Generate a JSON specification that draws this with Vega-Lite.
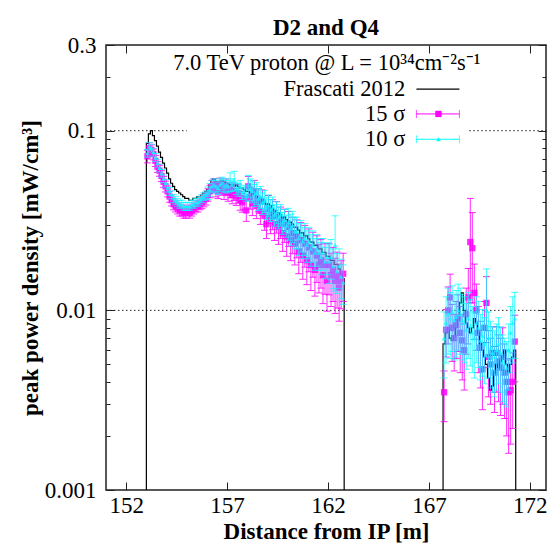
{
"$schema":"https://vega.github.io/schema/vega-lite/v6.json",
"width":440,"height":445,
"autosize":{"type":"none"},
"padding":{"left":106,"top":45,"right":4,"bottom":53},
"background":"white",
"config":{"view":{"stroke":"#222","strokeWidth":1.5},"font":"Liberation Serif"},
"title":{"text":"D2 and Q4","font":"Liberation Serif","fontSize":23,"fontWeight":"bold","color":"black","offset":-6,"anchor":"middle"},
"datasets":{
"grid":[{"x":151,"x2":155,"y":0.1},{"x":169,"x2":172.8,"y":0.1},{"x":151,"x2":172.8,"y":0.01}],
"blk":[
{"x":152.999,"y":0.001,"g":1},{"x":153.0,"y":0.085,"g":1},{"x":153.1,"y":0.096,"g":1},{"x":153.2,"y":0.1,"g":1},{"x":153.3,"y":0.094,"g":1},{"x":153.4,"y":0.088,"g":1},{"x":153.5,"y":0.082,"g":1},{"x":153.6,"y":0.076,"g":1},{"x":153.7,"y":0.071,"g":1},{"x":153.8,"y":0.066,"g":1},{"x":153.9,"y":0.062,"g":1},{"x":154.0,"y":0.058,"g":1},{"x":154.1,"y":0.054,"g":1},{"x":154.2,"y":0.051,"g":1},{"x":154.3,"y":0.049,"g":1},{"x":154.4,"y":0.047,"g":1},{"x":154.5,"y":0.046,"g":1},{"x":154.6,"y":0.045,"g":1},{"x":154.7,"y":0.044,"g":1},{"x":154.8,"y":0.043,"g":1},{"x":154.9,"y":0.042,"g":1},{"x":155.0,"y":0.042,"g":1},{"x":155.1,"y":0.041,"g":1},{"x":155.2,"y":0.041,"g":1},{"x":155.3,"y":0.042,"g":1},{"x":155.4,"y":0.042,"g":1},{"x":155.5,"y":0.043,"g":1},{"x":155.6,"y":0.043,"g":1},{"x":155.7,"y":0.044,"g":1},{"x":155.8,"y":0.045,"g":1},{"x":155.9,"y":0.046,"g":1},{"x":156.0,"y":0.047,"g":1},{"x":156.1,"y":0.05,"g":1},{"x":156.2,"y":0.053,"g":1},{"x":156.3,"y":0.054,"g":1},{"x":156.4,"y":0.052,"g":1},{"x":156.5,"y":0.051,"g":1},{"x":156.6,"y":0.052,"g":1},{"x":156.7,"y":0.053,"g":1},{"x":156.8,"y":0.052,"g":1},{"x":156.9,"y":0.051,"g":1},{"x":157.0,"y":0.051,"g":1},{"x":157.1,"y":0.05,"g":1},{"x":157.2,"y":0.05,"g":1},{"x":157.3,"y":0.049,"g":1},{"x":157.4,"y":0.05,"g":1},{"x":157.5,"y":0.049,"g":1},{"x":157.6,"y":0.048,"g":1},{"x":157.7,"y":0.048,"g":1},{"x":157.8,"y":0.047,"g":1},{"x":157.9,"y":0.046,"g":1},{"x":158.0,"y":0.046,"g":1},{"x":158.1,"y":0.045,"g":1},{"x":158.2,"y":0.044,"g":1},{"x":158.3,"y":0.044,"g":1},{"x":158.4,"y":0.043,"g":1},{"x":158.5,"y":0.042,"g":1},{"x":158.6,"y":0.042,"g":1},{"x":158.7,"y":0.041,"g":1},{"x":158.8,"y":0.04,"g":1},{"x":158.9,"y":0.039,"g":1},{"x":159.0,"y":0.039,"g":1},{"x":159.1,"y":0.038,"g":1},{"x":159.2,"y":0.037,"g":1},{"x":159.3,"y":0.036,"g":1},{"x":159.4,"y":0.035,"g":1},{"x":159.5,"y":0.035,"g":1},{"x":159.6,"y":0.034,"g":1},{"x":159.7,"y":0.033,"g":1},{"x":159.8,"y":0.033,"g":1},{"x":159.9,"y":0.032,"g":1},{"x":160.0,"y":0.031,"g":1},{"x":160.1,"y":0.031,"g":1},{"x":160.2,"y":0.03,"g":1},{"x":160.3,"y":0.029,"g":1},{"x":160.4,"y":0.029,"g":1},{"x":160.5,"y":0.028,"g":1},{"x":160.6,"y":0.027,"g":1},{"x":160.7,"y":0.027,"g":1},{"x":160.8,"y":0.026,"g":1},{"x":160.9,"y":0.026,"g":1},{"x":161.0,"y":0.025,"g":1},{"x":161.1,"y":0.024,"g":1},{"x":161.2,"y":0.024,"g":1},{"x":161.3,"y":0.023,"g":1},{"x":161.4,"y":0.023,"g":1},{"x":161.5,"y":0.022,"g":1},{"x":161.6,"y":0.022,"g":1},{"x":161.7,"y":0.021,"g":1},{"x":161.8,"y":0.021,"g":1},{"x":161.9,"y":0.02,"g":1},{"x":162.0,"y":0.02,"g":1},{"x":162.1,"y":0.019,"g":1},{"x":162.2,"y":0.019,"g":1},{"x":162.3,"y":0.018,"g":1},{"x":162.4,"y":0.018,"g":1},{"x":162.5,"y":0.017,"g":1},{"x":162.6,"y":0.016,"g":1},{"x":162.7,"y":0.015,"g":1},{"x":162.8,"y":0.001,"g":1},
{"x":167.699,"y":0.001,"g":2},{"x":167.7,"y":0.0065,"g":2},{"x":167.8,"y":0.0075,"g":2},{"x":167.9,"y":0.008,"g":2},{"x":168.0,"y":0.007,"g":2},{"x":168.1,"y":0.0068,"g":2},{"x":168.2,"y":0.0072,"g":2},{"x":168.3,"y":0.008,"g":2},{"x":168.4,"y":0.009,"g":2},{"x":168.5,"y":0.011,"g":2},{"x":168.6,"y":0.0125,"g":2},{"x":168.7,"y":0.01,"g":2},{"x":168.8,"y":0.0085,"g":2},{"x":168.9,"y":0.008,"g":2},{"x":169.0,"y":0.0075,"g":2},{"x":169.1,"y":0.008,"g":2},{"x":169.2,"y":0.009,"g":2},{"x":169.3,"y":0.0085,"g":2},{"x":169.4,"y":0.0075,"g":2},{"x":169.5,"y":0.0065,"g":2},{"x":169.6,"y":0.006,"g":2},{"x":169.7,"y":0.0055,"g":2},{"x":169.8,"y":0.005,"g":2},{"x":169.9,"y":0.0042,"g":2},{"x":170.0,"y":0.0036,"g":2},{"x":170.1,"y":0.0038,"g":2},{"x":170.2,"y":0.0045,"g":2},{"x":170.3,"y":0.005,"g":2},{"x":170.4,"y":0.0048,"g":2},{"x":170.5,"y":0.0052,"g":2},{"x":170.6,"y":0.0055,"g":2},{"x":170.7,"y":0.006,"g":2},{"x":170.8,"y":0.005,"g":2},{"x":170.9,"y":0.0045,"g":2},{"x":171.0,"y":0.005,"g":2},{"x":171.1,"y":0.0055,"g":2},{"x":171.2,"y":0.006,"g":2},{"x":171.3,"y":0.001,"g":2}
],
"m15":[
{"x":153.05,"y":0.072,"lo":0.0662,"hi":0.0778},{"x":153.15,"y":0.08,"lo":0.0744,"hi":0.0856},{"x":153.25,"y":0.078,"lo":0.0725,"hi":0.0835},{"x":153.35,"y":0.074,"lo":0.0688,"hi":0.0792},{"x":153.45,"y":0.068,"lo":0.0632,"hi":0.0728},{"x":153.55,"y":0.063,"lo":0.0586,"hi":0.0674},{"x":153.65,"y":0.06,"lo":0.0558,"hi":0.0642},{"x":153.75,"y":0.056,"lo":0.0521,"hi":0.0599},{"x":153.85,"y":0.052,"lo":0.0484,"hi":0.0556},{"x":153.95,"y":0.049,"lo":0.0456,"hi":0.0524},
{"x":154.05,"y":0.046,"lo":0.0428,"hi":0.0492},{"x":154.15,"y":0.043,"lo":0.04,"hi":0.046},{"x":154.25,"y":0.041,"lo":0.0381,"hi":0.0439},{"x":154.35,"y":0.039,"lo":0.0363,"hi":0.0417},{"x":154.45,"y":0.038,"lo":0.0353,"hi":0.0407},{"x":154.55,"y":0.037,"lo":0.0344,"hi":0.0396},{"x":154.65,"y":0.036,"lo":0.0335,"hi":0.0385},{"x":154.75,"y":0.036,"lo":0.0335,"hi":0.0385},{"x":154.85,"y":0.035,"lo":0.0326,"hi":0.0375},{"x":154.95,"y":0.035,"lo":0.0326,"hi":0.0375},
{"x":155.05,"y":0.036,"lo":0.0335,"hi":0.0385},{"x":155.15,"y":0.035,"lo":0.0326,"hi":0.0375},{"x":155.25,"y":0.036,"lo":0.0335,"hi":0.0385},{"x":155.35,"y":0.037,"lo":0.0344,"hi":0.0396},{"x":155.45,"y":0.038,"lo":0.0353,"hi":0.0407},{"x":155.55,"y":0.038,"lo":0.0353,"hi":0.0407},{"x":155.65,"y":0.039,"lo":0.0363,"hi":0.0417},{"x":155.75,"y":0.04,"lo":0.0368,"hi":0.0432},{"x":155.85,"y":0.041,"lo":0.0377,"hi":0.0443},{"x":155.95,"y":0.042,"lo":0.0386,"hi":0.0454},
{"x":156.05,"y":0.044,"lo":0.0405,"hi":0.0475},{"x":156.15,"y":0.046,"lo":0.0423,"hi":0.0497},{"x":156.25,"y":0.049,"lo":0.0451,"hi":0.0529},{"x":156.35,"y":0.05,"lo":0.046,"hi":0.054},{"x":156.45,"y":0.047,"lo":0.0428,"hi":0.0512},{"x":156.55,"y":0.046,"lo":0.0419,"hi":0.0501},{"x":156.65,"y":0.05,"lo":0.0455,"hi":0.0545},{"x":156.75,"y":0.048,"lo":0.0437,"hi":0.0523},{"x":156.85,"y":0.046,"lo":0.0414,"hi":0.0506},{"x":156.95,"y":0.049,"lo":0.0441,"hi":0.0539},
{"x":157.05,"y":0.045,"lo":0.0405,"hi":0.0495},{"x":157.15,"y":0.047,"lo":0.0423,"hi":0.0517},{"x":157.25,"y":0.044,"lo":0.0392,"hi":0.0488},{"x":157.35,"y":0.046,"lo":0.0409,"hi":0.0511},{"x":157.45,"y":0.043,"lo":0.0383,"hi":0.0477},{"x":157.55,"y":0.045,"lo":0.0396,"hi":0.0504},{"x":157.65,"y":0.041,"lo":0.0361,"hi":0.0459},{"x":157.75,"y":0.04,"lo":0.0352,"hi":0.0448},{"x":157.85,"y":0.042,"lo":0.0365,"hi":0.0475},{"x":157.95,"y":0.036,"lo":0.0313,"hi":0.0407},
{"x":158.05,"y":0.049,"lo":0.0429,"hi":0.0557},{"x":158.15,"y":0.0426,"lo":0.0366,"hi":0.0485},{"x":158.25,"y":0.0392,"lo":0.0337,"hi":0.0447},{"x":158.35,"y":0.0459,"lo":0.0391,"hi":0.0529},{"x":158.45,"y":0.0381,"lo":0.0324,"hi":0.0438},{"x":158.55,"y":0.0414,"lo":0.0353,"hi":0.0477},{"x":158.65,"y":0.0358,"lo":0.0301,"hi":0.0416},{"x":158.75,"y":0.0403,"lo":0.0338,"hi":0.0468},{"x":158.85,"y":0.0336,"lo":0.0279,"hi":0.0393},{"x":158.95,"y":0.0302,"lo":0.0251,"hi":0.0354},
{"x":159.05,"y":0.037,"lo":0.0304,"hi":0.0436},{"x":159.15,"y":0.0325,"lo":0.0267,"hi":0.0383},{"x":159.25,"y":0.0347,"lo":0.0281,"hi":0.0413},{"x":159.35,"y":0.0302,"lo":0.0245,"hi":0.036},{"x":159.45,"y":0.0336,"lo":0.0269,"hi":0.0403},{"x":159.55,"y":0.0291,"lo":0.0233,"hi":0.0349},{"x":159.65,"y":0.0314,"lo":0.0251,"hi":0.0376},{"x":159.75,"y":0.0269,"lo":0.0213,"hi":0.0325},{"x":159.85,"y":0.0302,"lo":0.0239,"hi":0.0366},{"x":159.95,"y":0.0258,"lo":0.02,"hi":0.0315},
{"x":160.05,"y":0.0291,"lo":0.0227,"hi":0.0355},{"x":160.15,"y":0.0246,"lo":0.0189,"hi":0.0304},{"x":160.25,"y":0.0269,"lo":0.0207,"hi":0.033},{"x":160.35,"y":0.0235,"lo":0.0179,"hi":0.0291},{"x":160.45,"y":0.0258,"lo":0.0196,"hi":0.0319},{"x":160.55,"y":0.0213,"lo":0.016,"hi":0.0267},{"x":160.65,"y":0.0246,"lo":0.0185,"hi":0.0308},{"x":160.75,"y":0.0202,"lo":0.0149,"hi":0.0254},{"x":160.85,"y":0.0235,"lo":0.0174,"hi":0.0297},{"x":160.95,"y":0.019,"lo":0.0139,"hi":0.0242},
{"x":161.05,"y":0.0224,"lo":0.0164,"hi":0.0284},{"x":161.15,"y":0.0179,"lo":0.0129,"hi":0.023},{"x":161.25,"y":0.0213,"lo":0.0153,"hi":0.0272},{"x":161.35,"y":0.0168,"lo":0.012,"hi":0.0217},{"x":161.45,"y":0.0202,"lo":0.0143,"hi":0.026},{"x":161.55,"y":0.0179,"lo":0.0125,"hi":0.0233},{"x":161.65,"y":0.019,"lo":0.0133,"hi":0.0248},{"x":161.75,"y":0.0157,"lo":0.0109,"hi":0.0205},{"x":161.85,"y":0.0179,"lo":0.0123,"hi":0.0235},{"x":161.95,"y":0.0146,"lo":0.0099,"hi":0.0193},
{"x":162.05,"y":0.0179,"lo":0.0122,"hi":0.0236},{"x":162.15,"y":0.0157,"lo":0.0105,"hi":0.0208},{"x":162.25,"y":0.0168,"lo":0.0112,"hi":0.0224},{"x":162.35,"y":0.0146,"lo":0.0096,"hi":0.0195},{"x":162.45,"y":0.0157,"lo":0.0103,"hi":0.0211},{"x":162.55,"y":0.0134,"lo":0.0087,"hi":0.0181},{"x":162.65,"y":0.0146,"lo":0.0102,"hi":0.0189},{"x":162.75,"y":0.016,"lo":0.0112,"hi":0.0208},
{"x":167.75,"y":0.0035,"lo":0.0024,"hi":0.0046},{"x":167.85,"y":0.0078,"lo":0.0055,"hi":0.0101},{"x":167.95,"y":0.01,"lo":0.0065,"hi":0.0135},{"x":168.05,"y":0.0118,"lo":0.0077,"hi":0.0159},{"x":168.15,"y":0.008,"lo":0.0052,"hi":0.0108},{"x":168.25,"y":0.007,"lo":0.0046,"hi":0.0095},{"x":168.35,"y":0.0083,"lo":0.0054,"hi":0.0112},{"x":168.45,"y":0.009,"lo":0.0059,"hi":0.0122},{"x":168.55,"y":0.0075,"lo":0.0045,"hi":0.0105},{"x":168.65,"y":0.0068,"lo":0.0041,"hi":0.0095},
{"x":168.75,"y":0.006,"lo":0.0036,"hi":0.0084},{"x":168.85,"y":0.0095,"lo":0.0057,"hi":0.0133},{"x":168.95,"y":0.0118,"lo":0.0065,"hi":0.0171},{"x":169.05,"y":0.024,"lo":0.011,"hi":0.042},{"x":169.15,"y":0.0222,"lo":0.011,"hi":0.035},{"x":169.25,"y":0.0125,"lo":0.0069,"hi":0.0181},{"x":169.35,"y":0.01,"lo":0.006,"hi":0.014},{"x":169.45,"y":0.0075,"lo":0.0045,"hi":0.0105},{"x":169.55,"y":0.0062,"lo":0.0037,"hi":0.0087},{"x":169.65,"y":0.0047,"lo":0.0028,"hi":0.0066},
{"x":169.75,"y":0.008,"lo":0.0048,"hi":0.0112},{"x":169.85,"y":0.011,"lo":0.0066,"hi":0.0154},{"x":169.95,"y":0.0055,"lo":0.0033,"hi":0.0077},{"x":170.05,"y":0.005,"lo":0.003,"hi":0.007},{"x":170.15,"y":0.0058,"lo":0.0035,"hi":0.0081},{"x":170.25,"y":0.0045,"lo":0.0027,"hi":0.0063},{"x":170.35,"y":0.0058,"lo":0.0035,"hi":0.0081},{"x":170.45,"y":0.0052,"lo":0.0031,"hi":0.0073},{"x":170.55,"y":0.0048,"lo":0.0026,"hi":0.007},{"x":170.65,"y":0.0055,"lo":0.003,"hi":0.008},
{"x":170.75,"y":0.0045,"lo":0.0025,"hi":0.0065},{"x":170.85,"y":0.004,"lo":0.002,"hi":0.006},{"x":170.95,"y":0.0035,"lo":0.0016,"hi":0.0053},{"x":171.05,"y":0.0036,"lo":0.0018,"hi":0.0054},{"x":171.15,"y":0.004,"lo":0.0022,"hi":0.0058},{"x":171.25,"y":0.0067,"lo":0.004,"hi":0.0094}
],
"c10":[
{"x":153.05,"y":0.075,"lo":0.0713,"hi":0.0788},{"x":153.15,"y":0.082,"lo":0.0779,"hi":0.0861},{"x":153.25,"y":0.08,"lo":0.076,"hi":0.084},{"x":153.35,"y":0.076,"lo":0.0722,"hi":0.0798},{"x":153.45,"y":0.071,"lo":0.0675,"hi":0.0746},{"x":153.55,"y":0.066,"lo":0.0627,"hi":0.0693},{"x":153.65,"y":0.062,"lo":0.0589,"hi":0.0651},{"x":153.75,"y":0.058,"lo":0.0551,"hi":0.0609},{"x":153.85,"y":0.054,"lo":0.0513,"hi":0.0567},{"x":153.95,"y":0.051,"lo":0.0485,"hi":0.0536},
{"x":154.05,"y":0.048,"lo":0.0456,"hi":0.0504},{"x":154.15,"y":0.046,"lo":0.0437,"hi":0.0483},{"x":154.25,"y":0.044,"lo":0.0418,"hi":0.0462},{"x":154.35,"y":0.042,"lo":0.0399,"hi":0.0441},{"x":154.45,"y":0.041,"lo":0.039,"hi":0.0431},{"x":154.55,"y":0.04,"lo":0.038,"hi":0.042},{"x":154.65,"y":0.039,"lo":0.0371,"hi":0.041},{"x":154.75,"y":0.039,"lo":0.0371,"hi":0.041},{"x":154.85,"y":0.038,"lo":0.0361,"hi":0.0399},{"x":154.95,"y":0.038,"lo":0.0361,"hi":0.0399},
{"x":155.05,"y":0.038,"lo":0.0361,"hi":0.0399},{"x":155.15,"y":0.038,"lo":0.0361,"hi":0.0399},{"x":155.25,"y":0.039,"lo":0.0371,"hi":0.041},{"x":155.35,"y":0.039,"lo":0.0371,"hi":0.041},{"x":155.45,"y":0.04,"lo":0.038,"hi":0.042},{"x":155.55,"y":0.04,"lo":0.038,"hi":0.042},{"x":155.65,"y":0.041,"lo":0.039,"hi":0.0431},{"x":155.75,"y":0.042,"lo":0.0399,"hi":0.0441},{"x":155.85,"y":0.043,"lo":0.0409,"hi":0.0452},{"x":155.95,"y":0.044,"lo":0.0418,"hi":0.0462},
{"x":156.05,"y":0.045,"lo":0.0414,"hi":0.0486},{"x":156.15,"y":0.047,"lo":0.0432,"hi":0.0508},{"x":156.25,"y":0.049,"lo":0.0451,"hi":0.0529},{"x":156.35,"y":0.05,"lo":0.046,"hi":0.054},{"x":156.45,"y":0.049,"lo":0.0451,"hi":0.0529},{"x":156.55,"y":0.048,"lo":0.0442,"hi":0.0518},{"x":156.65,"y":0.05,"lo":0.046,"hi":0.054},{"x":156.75,"y":0.051,"lo":0.0469,"hi":0.0551},{"x":156.85,"y":0.049,"lo":0.0451,"hi":0.0529},{"x":156.95,"y":0.05,"lo":0.046,"hi":0.054},
{"x":157.05,"y":0.049,"lo":0.0451,"hi":0.0529},{"x":157.15,"y":0.052,"lo":0.0458,"hi":0.0582},{"x":157.25,"y":0.05,"lo":0.046,"hi":0.054},{"x":157.35,"y":0.053,"lo":0.0466,"hi":0.0594},{"x":157.45,"y":0.048,"lo":0.0442,"hi":0.0518},{"x":157.55,"y":0.047,"lo":0.0432,"hi":0.0508},{"x":157.65,"y":0.049,"lo":0.0451,"hi":0.0529},{"x":157.75,"y":0.045,"lo":0.0414,"hi":0.0486},{"x":157.85,"y":0.046,"lo":0.0423,"hi":0.0497},{"x":157.95,"y":0.044,"lo":0.0405,"hi":0.0475},
{"x":158.05,"y":0.0495,"lo":0.0426,"hi":0.0564},{"x":158.15,"y":0.0473,"lo":0.0407,"hi":0.0539},{"x":158.25,"y":0.0462,"lo":0.0397,"hi":0.0527},{"x":158.35,"y":0.044,"lo":0.0378,"hi":0.0502},{"x":158.45,"y":0.0451,"lo":0.0388,"hi":0.0514},{"x":158.55,"y":0.0418,"lo":0.036,"hi":0.0476},{"x":158.65,"y":0.0429,"lo":0.0369,"hi":0.049},{"x":158.75,"y":0.0396,"lo":0.0341,"hi":0.0451},{"x":158.85,"y":0.0407,"lo":0.035,"hi":0.0464},{"x":158.95,"y":0.0374,"lo":0.0321,"hi":0.0427},
{"x":159.05,"y":0.0385,"lo":0.0331,"hi":0.0439},{"x":159.15,"y":0.0363,"lo":0.0312,"hi":0.0414},{"x":159.25,"y":0.0374,"lo":0.0321,"hi":0.0427},{"x":159.35,"y":0.0341,"lo":0.0294,"hi":0.0388},{"x":159.45,"y":0.0352,"lo":0.0303,"hi":0.0402},{"x":159.55,"y":0.033,"lo":0.0284,"hi":0.0376},{"x":159.65,"y":0.0341,"lo":0.0294,"hi":0.0388},{"x":159.75,"y":0.0308,"lo":0.0265,"hi":0.0351},{"x":159.85,"y":0.0319,"lo":0.0274,"hi":0.0364},{"x":159.95,"y":0.0297,"lo":0.0255,"hi":0.0339},
{"x":160.05,"y":0.0308,"lo":0.0246,"hi":0.037},{"x":160.15,"y":0.0286,"lo":0.0229,"hi":0.0343},{"x":160.25,"y":0.0297,"lo":0.0238,"hi":0.0356},{"x":160.35,"y":0.0275,"lo":0.022,"hi":0.033},{"x":160.45,"y":0.0275,"lo":0.022,"hi":0.033},{"x":160.55,"y":0.0253,"lo":0.0202,"hi":0.0304},{"x":160.65,"y":0.0264,"lo":0.0211,"hi":0.0317},{"x":160.75,"y":0.0242,"lo":0.0194,"hi":0.029},{"x":160.85,"y":0.0253,"lo":0.0202,"hi":0.0304},{"x":160.95,"y":0.0231,"lo":0.0185,"hi":0.0277},
{"x":161.05,"y":0.0242,"lo":0.0194,"hi":0.029},{"x":161.15,"y":0.022,"lo":0.0176,"hi":0.0264},{"x":161.25,"y":0.0231,"lo":0.0185,"hi":0.0277},{"x":161.35,"y":0.0209,"lo":0.0167,"hi":0.0251},{"x":161.45,"y":0.022,"lo":0.0176,"hi":0.0264},{"x":161.55,"y":0.0209,"lo":0.0167,"hi":0.0251},{"x":161.65,"y":0.0198,"lo":0.0158,"hi":0.0238},{"x":161.75,"y":0.0209,"lo":0.0167,"hi":0.0251},{"x":161.85,"y":0.0187,"lo":0.015,"hi":0.0224},{"x":161.95,"y":0.0198,"lo":0.0158,"hi":0.0238},
{"x":162.05,"y":0.0187,"lo":0.0141,"hi":0.0234},{"x":162.15,"y":0.0198,"lo":0.0149,"hi":0.0248},{"x":162.25,"y":0.0176,"lo":0.0132,"hi":0.022},{"x":162.35,"y":0.0231,"lo":0.0128,"hi":0.0336},{"x":162.45,"y":0.0165,"lo":0.0124,"hi":0.0207},{"x":162.55,"y":0.0176,"lo":0.0132,"hi":0.022},{"x":162.65,"y":0.0154,"lo":0.0116,"hi":0.0193},{"x":162.75,"y":0.0143,"lo":0.0108,"hi":0.0179},
{"x":167.75,"y":0.007,"lo":0.0042,"hi":0.0098},{"x":167.85,"y":0.0085,"lo":0.0051,"hi":0.0119},{"x":167.95,"y":0.0095,"lo":0.0057,"hi":0.0133},{"x":168.05,"y":0.009,"lo":0.0054,"hi":0.0126},{"x":168.15,"y":0.0098,"lo":0.0059,"hi":0.0137},{"x":168.25,"y":0.0088,"lo":0.0053,"hi":0.0123},{"x":168.35,"y":0.0092,"lo":0.0055,"hi":0.0129},{"x":168.45,"y":0.01,"lo":0.006,"hi":0.014},{"x":168.55,"y":0.0095,"lo":0.0057,"hi":0.0133},{"x":168.65,"y":0.0088,"lo":0.0053,"hi":0.0123},
{"x":168.75,"y":0.0085,"lo":0.0051,"hi":0.0119},{"x":168.85,"y":0.0078,"lo":0.0047,"hi":0.0109},{"x":168.95,"y":0.009,"lo":0.0054,"hi":0.0126},{"x":169.05,"y":0.0082,"lo":0.0049,"hi":0.0115},{"x":169.15,"y":0.0075,"lo":0.0045,"hi":0.0105},{"x":169.25,"y":0.007,"lo":0.0042,"hi":0.0098},{"x":169.35,"y":0.0085,"lo":0.0051,"hi":0.0119},{"x":169.45,"y":0.008,"lo":0.0048,"hi":0.0112},{"x":169.55,"y":0.0068,"lo":0.0041,"hi":0.0095},{"x":169.65,"y":0.0072,"lo":0.0043,"hi":0.0101},
{"x":169.75,"y":0.0065,"lo":0.0039,"hi":0.0091},{"x":169.85,"y":0.01,"lo":0.0055,"hi":0.017},{"x":169.95,"y":0.007,"lo":0.0042,"hi":0.0098},{"x":170.05,"y":0.0062,"lo":0.0037,"hi":0.0087},{"x":170.15,"y":0.0058,"lo":0.0035,"hi":0.0081},{"x":170.25,"y":0.0055,"lo":0.0033,"hi":0.0077},{"x":170.35,"y":0.006,"lo":0.0036,"hi":0.0084},{"x":170.45,"y":0.0065,"lo":0.0039,"hi":0.0091},{"x":170.55,"y":0.0058,"lo":0.0035,"hi":0.0081},{"x":170.65,"y":0.0052,"lo":0.0031,"hi":0.0073},
{"x":170.75,"y":0.005,"lo":0.003,"hi":0.007},{"x":170.85,"y":0.0048,"lo":0.0029,"hi":0.0067},{"x":170.95,"y":0.006,"lo":0.0036,"hi":0.0084},{"x":171.05,"y":0.0075,"lo":0.0045,"hi":0.0105},{"x":171.15,"y":0.0085,"lo":0.0051,"hi":0.0119},{"x":171.25,"y":0.009,"lo":0.0054,"hi":0.0126}
],
"legtitle":[{"x":161.94,"y":0.238,"t":"7.0 TeV proton @ L = 10³⁴cm⁻²s⁻¹"}],
"legtext":[{"x":165.83,"y":0.1706,"t":"Frascati 2012"},{"x":165.83,"y":0.124,"t":"15 σ"},{"x":165.83,"y":0.0896,"t":"10 σ"}],
"legblk":[{"x":166.38,"x2":168.51,"y":0.1706}],
"legm":[{"x":166.38,"x2":168.51,"xm":167.47,"y":0.124}],
"legc":[{"x":166.38,"x2":168.51,"xm":167.47,"y":0.0896}]
},
"resolve":{"axis":{"x":"independent","y":"independent"}},
"layer":[
{"data":{"name":"grid"},"mark":{"type":"rule","color":"#222","strokeDash":[1.5,2.5],"strokeWidth":1},
 "encoding":{
  "x":{"field":"x","type":"quantitative","scale":{"domain":[151,172.8],"nice":false,"zero":false},
   "axis":{"orient":"bottom","values":[152,157,162,167,172],"format":"d","domain":false,"grid":false,"tickSize":-8,"tickColor":"#222","tickWidth":1,"labelFont":"Liberation Serif","labelFontSize":23,"labelColor":"black","labelPadding":12,"labelFlush":false,"labelOverlap":false,"title":"Distance from IP [m]","titleFont":"Liberation Serif","titleFontSize":23,"titleFontWeight":"bold","titleColor":"black","titlePadding":3}},
  "x2":{"field":"x2"},
  "y":{"field":"y","type":"quantitative","scale":{"type":"log","domain":[0.001,0.3],"nice":false},
   "axis":{"orient":"left","values":[0.001,0.002,0.003,0.004,0.005,0.006,0.007,0.008,0.009,0.01,0.02,0.03,0.04,0.05,0.06,0.07,0.08,0.09,0.1,0.2,0.3],"format":"~g","labelExpr":"(datum.value==0.001||datum.value==0.01||datum.value==0.1||datum.value==0.3) ? datum.label : ''","domain":false,"grid":false,"tickSize":{"condition":{"test":"datum.value==0.001||datum.value==0.01||datum.value==0.1||datum.value==0.3","value":-8},"value":-4},"tickColor":"#222","labelFont":"Liberation Serif","labelFontSize":23,"labelColor":"black","labelPadding":18,"labelFlush":false,"labelOverlap":false,"title":"peak power density [mW/cm³]","titleFont":"Liberation Serif","titleFontSize":23,"titleFontWeight":"bold","titleColor":"black","titlePadding":2}}
 }},
{"data":{"name":"blk"},"mark":{"type":"line","color":"black","strokeWidth":1.2,"interpolate":"step-after","clip":true},
 "encoding":{
  "x":{"field":"x","type":"quantitative","scale":{"domain":[151,172.8],"nice":false,"zero":false},
   "axis":{"orient":"top","values":[152,157,162,167,172],"labels":false,"domain":false,"grid":false,"tickSize":-8,"tickColor":"#222","title":null}},
  "y":{"field":"y","type":"quantitative","scale":{"type":"log","domain":[0.001,0.3],"nice":false},
   "axis":{"orient":"right","values":[0.001,0.002,0.003,0.004,0.005,0.006,0.007,0.008,0.009,0.01,0.02,0.03,0.04,0.05,0.06,0.07,0.08,0.09,0.1,0.2,0.3],"labels":false,"domain":false,"grid":false,"tickSize":{"condition":{"test":"datum.value==0.001||datum.value==0.01||datum.value==0.1||datum.value==0.3","value":-8},"value":-4},"tickColor":"#222","title":null}},
  "detail":{"field":"g","type":"nominal"}
 }},
{"data":{"name":"m15"},"mark":{"type":"rule","color":"#ff00ff","strokeWidth":1,"opacity":0.85,"clip":true},
 "encoding":{"x":{"field":"x","type":"quantitative","axis":null},"y":{"field":"lo","type":"quantitative","axis":null},"y2":{"field":"hi"}}},
{"data":{"name":"m15"},"mark":{"type":"tick","color":"#ff00ff","orient":"horizontal","size":7,"thickness":1,"opacity":0.85,"clip":true},
 "encoding":{"x":{"field":"x","type":"quantitative","axis":null},"y":{"field":"lo","type":"quantitative","axis":null}}},
{"data":{"name":"m15"},"mark":{"type":"tick","color":"#ff00ff","orient":"horizontal","size":7,"thickness":1,"opacity":0.85,"clip":true},
 "encoding":{"x":{"field":"x","type":"quantitative","axis":null},"y":{"field":"hi","type":"quantitative","axis":null}}},
{"data":{"name":"m15"},"mark":{"type":"point","shape":"square","filled":true,"color":"#ff00ff","size":40,"opacity":0.85,"clip":true},
 "encoding":{"x":{"field":"x","type":"quantitative","axis":null},"y":{"field":"y","type":"quantitative","axis":null}}},
{"data":{"name":"c10"},"mark":{"type":"rule","color":"#00ffff","strokeWidth":1,"opacity":0.75,"clip":true},
 "encoding":{"x":{"field":"x","type":"quantitative","axis":null},"y":{"field":"lo","type":"quantitative","axis":null},"y2":{"field":"hi"}}},
{"data":{"name":"c10"},"mark":{"type":"tick","color":"#00ffff","orient":"horizontal","size":7,"thickness":1,"opacity":0.75,"clip":true},
 "encoding":{"x":{"field":"x","type":"quantitative","axis":null},"y":{"field":"lo","type":"quantitative","axis":null}}},
{"data":{"name":"c10"},"mark":{"type":"tick","color":"#00ffff","orient":"horizontal","size":7,"thickness":1,"opacity":0.75,"clip":true},
 "encoding":{"x":{"field":"x","type":"quantitative","axis":null},"y":{"field":"hi","type":"quantitative","axis":null}}},
{"data":{"name":"c10"},"mark":{"type":"point","shape":"triangle-up","filled":true,"color":"#00ffff","size":22,"opacity":0.75,"clip":true},
 "encoding":{"x":{"field":"x","type":"quantitative","axis":null},"y":{"field":"y","type":"quantitative","axis":null}}},
{"data":{"name":"legtitle"},"mark":{"type":"text","font":"Liberation Serif","fontSize":22.5,"color":"black","align":"center","baseline":"middle"},
 "encoding":{"x":{"field":"x","type":"quantitative","axis":null},"y":{"field":"y","type":"quantitative","axis":null},"text":{"field":"t"}}},
{"data":{"name":"legtext"},"mark":{"type":"text","font":"Liberation Serif","fontSize":22.5,"color":"black","align":"right","baseline":"middle"},
 "encoding":{"x":{"field":"x","type":"quantitative","axis":null},"y":{"field":"y","type":"quantitative","axis":null},"text":{"field":"t"}}},
{"data":{"name":"legblk"},"mark":{"type":"rule","color":"black","strokeWidth":1.2},
 "encoding":{"x":{"field":"x","type":"quantitative","axis":null},"x2":{"field":"x2"},"y":{"field":"y","type":"quantitative","axis":null}}},
{"data":{"name":"legm"},"mark":{"type":"rule","color":"#ff00ff","strokeWidth":1},
 "encoding":{"x":{"field":"x","type":"quantitative","axis":null},"x2":{"field":"x2"},"y":{"field":"y","type":"quantitative","axis":null}}},
{"data":{"name":"legm"},"mark":{"type":"tick","color":"#ff00ff","orient":"vertical","size":8,"thickness":1},
 "encoding":{"x":{"field":"x","type":"quantitative","axis":null},"y":{"field":"y","type":"quantitative","axis":null}}},
{"data":{"name":"legm"},"mark":{"type":"tick","color":"#ff00ff","orient":"vertical","size":8,"thickness":1},
 "encoding":{"x":{"field":"x2","type":"quantitative","axis":null},"y":{"field":"y","type":"quantitative","axis":null}}},
{"data":{"name":"legm"},"mark":{"type":"point","shape":"square","filled":true,"color":"#ff00ff","size":40,"opacity":1},
 "encoding":{"x":{"field":"xm","type":"quantitative","axis":null},"y":{"field":"y","type":"quantitative","axis":null}}},
{"data":{"name":"legc"},"mark":{"type":"rule","color":"#00ffff","strokeWidth":1},
 "encoding":{"x":{"field":"x","type":"quantitative","axis":null},"x2":{"field":"x2"},"y":{"field":"y","type":"quantitative","axis":null}}},
{"data":{"name":"legc"},"mark":{"type":"tick","color":"#00ffff","orient":"vertical","size":8,"thickness":1},
 "encoding":{"x":{"field":"x","type":"quantitative","axis":null},"y":{"field":"y","type":"quantitative","axis":null}}},
{"data":{"name":"legc"},"mark":{"type":"tick","color":"#00ffff","orient":"vertical","size":8,"thickness":1},
 "encoding":{"x":{"field":"x2","type":"quantitative","axis":null},"y":{"field":"y","type":"quantitative","axis":null}}},
{"data":{"name":"legc"},"mark":{"type":"point","shape":"triangle-up","filled":true,"color":"#00ffff","size":22,"opacity":1},
 "encoding":{"x":{"field":"xm","type":"quantitative","axis":null},"y":{"field":"y","type":"quantitative","axis":null}}}
]
}
